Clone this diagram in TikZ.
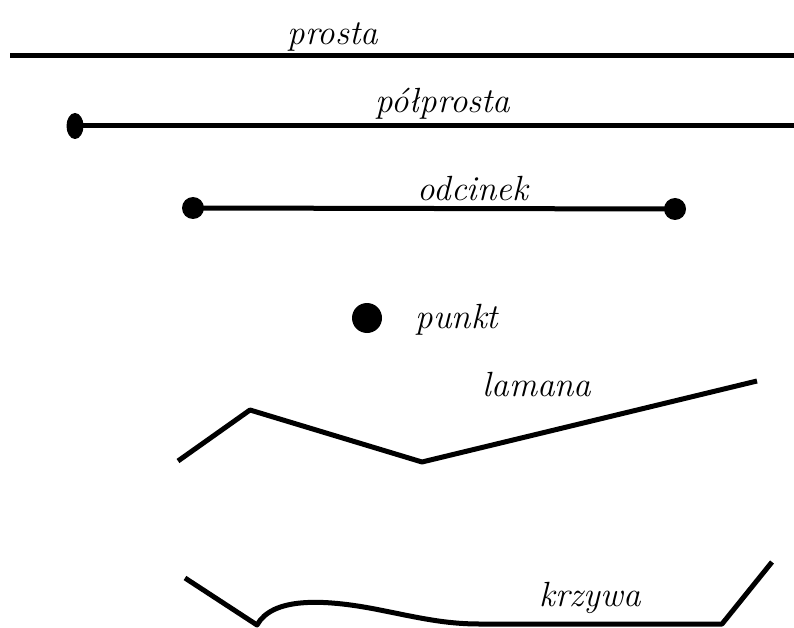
\documentclass[tikz,border=0pt]{standalone}
\usepackage{tikz}
\usetikzlibrary{shapes.geometric}

\begin{document}
\begin{tikzpicture}[
            x=1pt, y=-1pt,
            line/.style={line width=5pt, line join=round}, % Thick black strokes
            dot/.style={circle, fill=black, inner sep=0pt, minimum size=22pt}, % End points
            word/.style={font=\itshape\fontsize{35}{35}\selectfont, inner sep=0pt} % Names
            ]

        \useasboundingbox (0,0) rectangle (794,628);

        % prosta
        \coordinate (p1) at (10,56);
        \coordinate (p2) at (794,56);
        \draw[line] (p1) -- (p2);
        \node[word] (prosta) at (333,37) {prosta};

        % polprosta
        \node[ellipse, fill=black, inner sep=0pt, minimum width=17pt, minimum height=26pt] (h1) at (75,126) {};
        \coordinate (h2) at (794,126);
        \draw[line] (h1.center) -- (h2);
        \node[word] (polprosta) at (443,104) {półprosta};

        % odcinek
        \node[dot] (o1) at (193,208) {};
        \node[dot] (o2) at (675,209) {};
        \draw[line] (o1.center) -- (o2.center);
        \node[word] (odcinek) at (473,189) {odcinek};

        % punkt
        \node[dot, minimum size=30pt] (pt) at (367,318) {};
        \node[word] (punkt) at (457,320) {punkt};

        % lamana
        \coordinate (l1) at (178,461);
        \coordinate (l2) at (250,410);
        \coordinate (l3) at (422,462);
        \coordinate (l4) at (757,381);
        \draw[line] (l1) -- (l2) -- (l3) -- (l4);
        \node[word] (lamana) at (537,385) {lamana};

        % krzywa
        \coordinate (k1) at (185,578);
        \coordinate (k2) at (257,625);
        \coordinate (k3) at (480,624);
        \coordinate (k4) at (722,624);
        \coordinate (k5) at (772,562);
        \draw[line] (k1) -- (k2) .. controls (272,598) and (320,598) .. (380,610)
            .. controls (420,618) and (445,624) .. (k3) -- (k4) -- (k5);
        \node[word] (krzywa) at (590,598) {krzywa};

    \end{tikzpicture}
\end{document}
